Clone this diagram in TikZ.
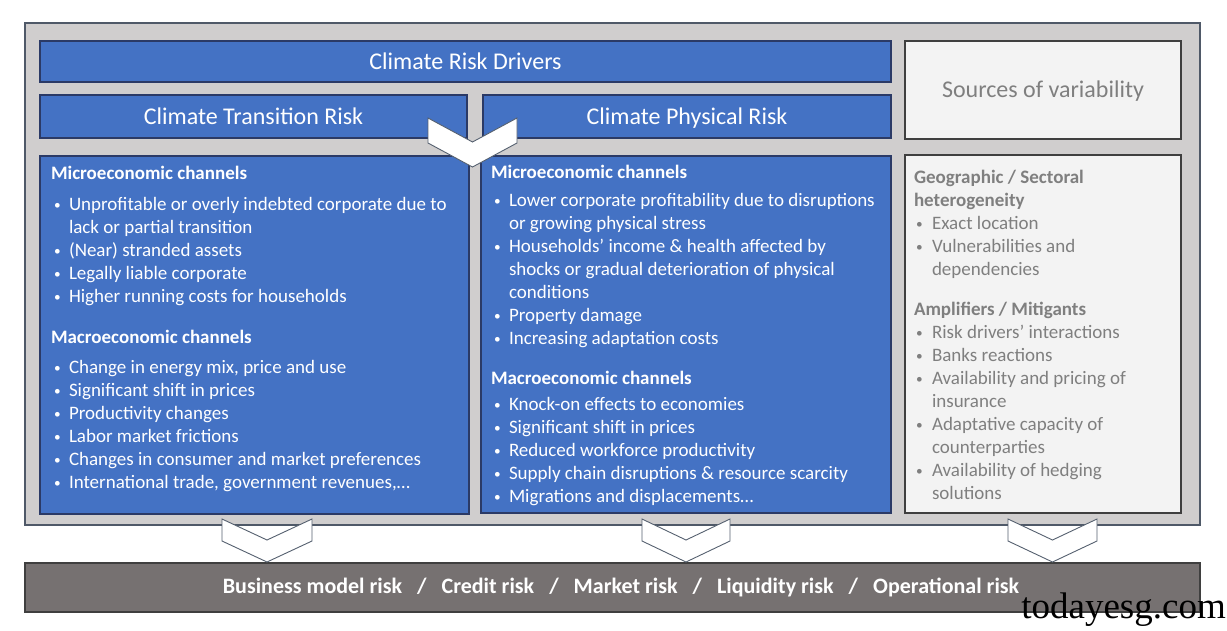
\documentclass[tikz,border=0pt]{standalone}
\usepackage{graphicx}
\usepackage{fontspec}
\setmainfont{Carlito}
\newfontfamily\wmfont{Liberation Serif}
\definecolor{cblue}{HTML}{4472C4}
\definecolor{cblueedge}{HTML}{2B3A66}
\definecolor{couter}{HTML}{D0CECE}
\definecolor{couteredge}{HTML}{4F5968}
\definecolor{clight}{HTML}{F3F3F3}
\definecolor{cdark}{HTML}{3F3F3F}
\definecolor{cgraytext}{HTML}{7F7F7F}
\definecolor{cbar}{HTML}{767171}
\definecolor{cchev}{HTML}{55606F}
\newcommand\mydot{\raisebox{1pt}{\scalebox{0.7}{\textbullet}}}
\newcommand\myb{\hspace*{3pt}\makebox[15pt][l]{\mydot}}
\newcommand\myi{\hspace*{18pt}}
\newcommand\myrb{\hspace*{2pt}\makebox[16pt][l]{\mydot}}
\begin{document}
\begin{tikzpicture}[x=1pt,y=-1pt,
  box/.style={draw, line width=1.1pt, inner sep=0pt, outer sep=0pt, anchor=north west},
  bluebox/.style={box, fill=cblue, draw=cblueedge, text=white},
  greybox/.style={box, fill=clight, draw=cdark, text=cgraytext},
  title/.style={font=\fontsize{24}{28}\selectfont, text height=19pt, text depth=4pt},
  chev/.style={fill=white, draw=cchev, line width=0.9pt, line join=miter},
  body/.style={inner sep=0pt, outer sep=0pt, anchor=north west, align=left, font=\fontsize{19}{23}\selectfont},
]
\useasboundingbox (0,0) rectangle (1227,630);
% outer frame
\node[box, fill=couter, draw=couteredge, minimum width=1175pt, minimum height=502pt] (outer) at (25,23) {};
% header boxes
\node[bluebox, title, minimum width=851pt, minimum height=41pt] (drivers) at (40,41) {Climate Risk Drivers};
\node[greybox, title, minimum width=276pt, minimum height=98pt] (sources) at (905,41) {Sources of variability};
\node[bluebox, title, minimum width=427pt, minimum height=43pt] (transition) at (40,95) {Climate Transition Risk};
\node[bluebox, title, minimum width=408pt, minimum height=43pt] (physical) at (483,95) {Climate Physical Risk};
% content boxes
\node[bluebox, minimum width=429pt, minimum height=358pt] (leftbox) at (40,156) {};
\node[bluebox, minimum width=410pt, minimum height=357pt] (midbox) at (481,156) {};
\node[greybox, minimum width=276pt, minimum height=358pt] (rightbox) at (905,155) {};
% left text
\node[body, text=white] (lefttext) at (51,166) {%
\textbf{Microeconomic channels}\\[8pt]
\myb Unprofitable or overly indebted corporate due to\\
\myi lack or partial transition\\
\myb (Near) stranded assets\\
\myb Legally liable corporate\\
\myb Higher running costs for households\\[18pt]
\textbf{Macroeconomic channels}\\[7pt]
\myb Change in energy mix, price and use\\
\myb Significant shift in prices\\
\myb Productivity changes\\
\myb Labor market frictions\\
\myb Changes in consumer and market preferences\\
\myb International trade, government revenues,…};
% middle text
\node[body, text=white] (midtext) at (491,165) {%
\textbf{Microeconomic channels}\\[5pt]
\myb Lower corporate profitability due to disruptions\\
\myi or growing physical stress\\
\myb Households’ income \& health affected by\\
\myi shocks or gradual deterioration of physical\\
\myi conditions\\
\myb Property damage\\
\myb Increasing adaptation costs\\[17pt]
\textbf{Macroeconomic channels}\\[3pt]
\myb Knock-on effects to economies\\
\myb Significant shift in prices\\
\myb Reduced workforce productivity\\
\myb Supply chain disruptions \& resource scarcity\\
\myb Migrations and displacements…};
% right text
\node[body, text=cgraytext] (righttext) at (914,170) {%
\textbf{Geographic / Sectoral}\\
\textbf{heterogeneity}\\
\myrb Exact location\\
\myrb Vulnerabilities and\\
\myi dependencies\\[17pt]
\textbf{Amplifiers / Mitigants}\\
\myrb Risk drivers’ interactions\\
\myrb Banks reactions\\
\myrb Availability and pricing of\\
\myi insurance\\
\myrb Adaptative capacity of\\
\myi counterparties\\
\myrb Availability of hedging\\
\myi solutions};
% top chevron
\draw[chev] (428,118) -- (472.5,142) -- (517,118) -- (517,143) -- (472.5,167) -- (428,143) -- cycle;
% bottom bar
\node[box, fill=cbar, draw=cdark, minimum width=1175pt, minimum height=49pt] (bar) at (25,563) {};
\node[inner sep=0pt, text=white, font=\bfseries\fontsize{22}{26}\selectfont] (risks) at (621,587)
 {Business model risk\hspace{15pt}/\hspace{15pt}Credit risk\hspace{15pt}/\hspace{15pt}Market risk\hspace{15pt}/\hspace{15pt}Liquidity risk\hspace{15pt}/\hspace{15pt}Operational risk};
% bottom chevrons
\draw[chev] (222,519) -- (267,540) -- (312,519) -- (312,541) -- (267,562) -- (222,541) -- cycle;
\draw[chev] (642,519) -- (686,540) -- (730,519) -- (730,541) -- (686,562) -- (642,541) -- cycle;
\draw[chev] (1008,519) -- (1052.5,540) -- (1097,519) -- (1097,541) -- (1052.5,562) -- (1008,541) -- cycle;
% watermark
\node[inner sep=0pt, anchor=base east, font=\wmfont\fontsize{37}{40}\selectfont] (wm) at (1226,618) {todayesg.com};
\end{tikzpicture}
\end{document}
